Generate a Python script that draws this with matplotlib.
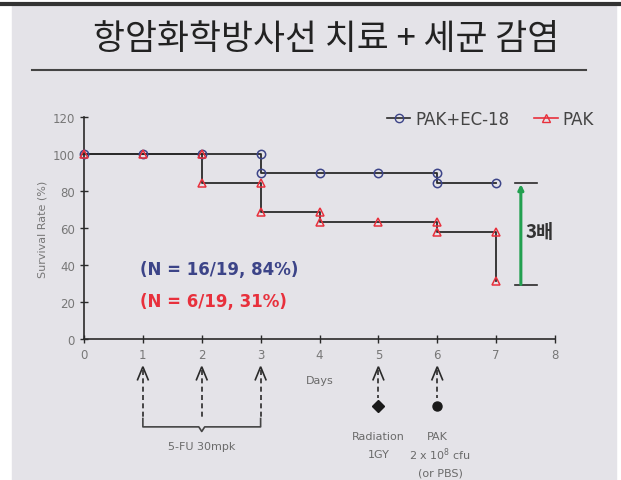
import matplotlib

matplotlib.use("Agg")
import matplotlib.pyplot as plt
from matplotlib.lines import Line2D

# Kaplan-Meier style survival data (days, survival %)
ec_days = [0, 1, 2, 3, 3, 4, 5, 6, 6, 7]
ec_vals = [100, 100, 100, 100, 89.5, 89.5, 89.5, 89.5, 84.2, 84.2]
pak_days = [0, 1, 2, 2, 3, 3, 4, 4, 5, 6, 6, 7, 7]
pak_vals = [100, 100, 100, 84.2, 84.2, 68.4, 68.4, 63.2, 63.2, 63.2, 57.9, 57.9, 31.6]

fu_days = [1, 2, 3]
radiation_day = 5
pak_day = 6

x_ticks = list(range(0, 9))
y_ticks = list(range(0, 121, 20))

BG = "#e4e3e8"
BLUE = "#3c4488"
RED = "#e8303c"
GRAY = "#6a6a6a"
DARK = "#2a2a2a"

fig = plt.figure(figsize=(6.21, 4.81), dpi=100)
fig.patch.set_facecolor("white")
fig.patches.append(plt.Rectangle((12 / 621, 0), 604 / 621, 475 / 481,
                                 transform=fig.transFigure, color=BG, zorder=-5))
fig.lines.append(Line2D([0, 1], [1 - 4.5 / 481] * 2, transform=fig.transFigure,
                        color="#333333", lw=3))
fig.lines.append(Line2D([32 / 621, 586 / 621], [1 - 71 / 481] * 2,
                        transform=fig.transFigure, color="#444444", lw=1.5))
fig.text(326 / 621, 1 - 40 / 481, "항암화학방사선 치료 + 세균 감염",
         ha="center", va="center", fontsize=25, color="#222222",
         fontweight="medium", family=["Noto Sans CJK KR", "DejaVu Sans"])

ax = fig.add_axes([84 / 621, 141 / 481, 471 / 621, 222 / 481])
ax.set_facecolor("none")
ax.set_xlim(0, 8)
ax.set_ylim(0, 120)
for s in ["top", "right"]:
    ax.spines[s].set_visible(False)
for s in ["left", "bottom"]:
    ax.spines[s].set_color(DARK)
    ax.spines[s].set_linewidth(1.2)
ax.set_xticks(x_ticks)
ax.set_yticks(y_ticks)
ax.tick_params(direction="inout", length=6, width=1, colors=DARK,
               labelcolor="#777777", labelsize=8.5)
ax.set_ylabel("Survival Rate (%)", fontsize=8, color="#777777", labelpad=4)

ax.plot(ec_days, ec_vals, color=DARK, lw=1.3, zorder=2, clip_on=False)
ax.plot(pak_days, pak_vals, color=DARK, lw=1.3, zorder=2, clip_on=False)
ax.plot(ec_days, ec_vals, ls="none", marker="o", ms=6, mfc="none",
        mec=BLUE, mew=1.1, zorder=3, clip_on=False)
ax.plot(pak_days, pak_vals, ls="none", marker="^", ms=6, mfc="none",
        mec=RED, mew=1.1, zorder=3, clip_on=False)

handles = [
    Line2D([], [], color=DARK, lw=1.2, marker="o", ms=6, mfc="none", mec=BLUE),
    Line2D([], [], color=RED, lw=1.2, marker="^", ms=6, mfc="none", mec=RED),
]
ax.legend(handles, ["PAK+EC-18", "PAK"], loc="upper right", ncol=2,
          frameon=False, fontsize=12, handlelength=1.4, handletextpad=0.3,
          columnspacing=1.5, bbox_to_anchor=(1.115, 1.1),
          labelcolor="#444444")

# fold-change bracket
gx = 7.42
ax.plot([7.32, 7.7], [ec_vals[-1]] * 2, color=DARK, lw=1.2, clip_on=False)
ax.plot([7.32, 7.7], [29] * 2, color=DARK, lw=1.2, clip_on=False)
ax.annotate("", xy=(gx, ec_vals[-1] - 0.5), xytext=(gx, 29.5),
            arrowprops=dict(arrowstyle="-|>,head_length=0.3,head_width=0.15",
                            color="#22a050", lw=2.2, shrinkA=0, shrinkB=0))
ax.text(7.5, 58, "3배", fontsize=13.5, fontweight="bold", color="#333333",
        va="center", ha="left", family=["Noto Sans CJK KR", "DejaVu Sans"])

ax.text(0.95, 38, "(N = 16/19, 84%)", fontsize=12, fontweight="bold",
        color=BLUE, va="center")
ax.text(0.95, 20.5, "(N = 6/19, 31%)", fontsize=12, fontweight="bold",
        color=RED, va="center")

# treatment schedule under the axis
def dose_arrow(d, y_end):
    ax.plot([d, d], [-17, y_end], color=DARK, lw=1.2, ls=(0, (3, 2)),
            clip_on=False)
    ax.plot([d - 0.09, d, d + 0.09], [-22, -15, -22], color=DARK, lw=1.2,
            clip_on=False, solid_joinstyle="miter")

for d in fu_days:
    dose_arrow(d, -44)
ax.plot([fu_days[0], fu_days[0], 1.95, fu_days[1], 2.05, fu_days[-1], fu_days[-1]],
        [-43, -47.5, -47.5, -50, -47.5, -47.5, -43], color="#444444", lw=1.2,
        clip_on=False)
ax.text(fu_days[1], -58, "5-FU 30mpk", fontsize=8, color=GRAY,
        ha="center", va="center")

dose_arrow(radiation_day, -32)
dose_arrow(pak_day, -32)
ax.plot([radiation_day], [-36], marker="D", ms=6.5, color="#1a1a1a",
        clip_on=False)
ax.plot([pak_day], [-36], marker="o", ms=6.5, color="#1a1a1a", clip_on=False)

ax.text(4.0, -22, "Days", fontsize=8, color=GRAY, ha="center", va="center")
ax.text(radiation_day, -52.4, "Radiation", fontsize=8, color=GRAY,
        ha="center", va="center")
ax.text(radiation_day, -62.2, "1GY", fontsize=8, color=GRAY,
        ha="center", va="center")
ax.text(pak_day, -52.4, "PAK", fontsize=8, color=GRAY, ha="center", va="center")
ax.text(pak_day + 0.05, -62.2, "2 x 10$^8$ cfu", fontsize=8, color=GRAY,
        ha="center", va="center")
ax.text(pak_day + 0.05, -71.9, "(or PBS)", fontsize=8, color=GRAY,
        ha="center", va="center")

fig.savefig("out.png", dpi=100, facecolor=fig.get_facecolor())
